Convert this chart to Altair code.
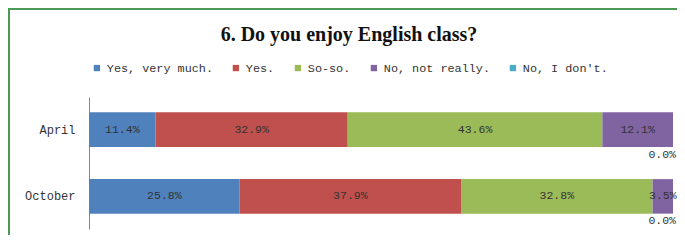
import altair as alt
import pandas as pd

months = ["April", "October"]
categories = ["Yes, very much.", "Yes.", "So-so.", "No, not really.", "No, I don't."]
april = [11.4, 32.9, 43.6, 12.1, 0.0]
october = [25.8, 37.9, 32.8, 3.5, 0.0]
colors = ["#4F81BD", "#C0504D", "#9BBB59", "#8064A2", "#4BACC6"]
title_text = ["6. Do you enjoy English class?"]

rows = []
for m, vals in zip(months, [april, october]):
    for i, (c, v) in enumerate(zip(categories, vals)):
        rows.append({"month": m, "category": c, "order": i, "value": v})
df = pd.DataFrame(rows)

base = alt.Chart(df).transform_stack(
    stack="value", groupby=["month"], as_=["x0", "x1"],
    sort=[alt.SortField("order", order="ascending")]
).transform_calculate(
    mid="(datum.x0 + datum.x1) / 2",
    label="format(datum.value, '.1f') + '%'"
)

yenc = alt.Y(
    "month:N", sort=months,
    scale=alt.Scale(paddingInner=0.483, paddingOuter=0.23),
    axis=alt.Axis(title=None, domainColor="#868686", domainWidth=1, ticks=False,
                  labelFont="Liberation Mono", labelFontSize=12, labelColor="#333333",
                  labelPadding=14, grid=False),
)
xscale = alt.Scale(domain=[0, 100], nice=False, zero=True)

bars = base.mark_bar(strokeWidth=0).encode(
    x=alt.X("x0:Q", scale=xscale, axis=None),
    x2="x1:Q",
    y=yenc,
    color=alt.Color(
        "category:N",
        scale=alt.Scale(domain=categories, range=colors),
        legend=alt.Legend(
            orient="none", legendX=2, legendY=-35, direction="horizontal", columns=5,
            title=None, symbolType="square", symbolSize=40, symbolStrokeWidth=0,
            labelFont="Liberation Mono", labelFontSize=11.8, labelColor="#333333",
            columnPadding=17, labelOffset=4,
        ),
    ),
)

labels = base.transform_filter("datum.value > 0").mark_text(
    font="Liberation Mono", fontSize=11.5, color="#333333"
).encode(x=alt.X("mid:Q", scale=xscale), y=alt.Y("month:N", sort=months), text="label:N")

zero_labels = base.transform_filter("datum.value == 0").mark_text(
    font="Liberation Mono", fontSize=11.5, color="#333333", dy=25, dx=3, align="right"
).encode(x=alt.X("x1:Q", scale=xscale), y=alt.Y("month:N", sort=months), text="label:N")

title = alt.Chart(pd.DataFrame({"t": title_text})).mark_text(
    font="Liberation Serif", fontWeight="bold", fontSize=20, color="#111111",
    baseline="alphabetic", align="center"
).encode(x=alt.value(260), y=alt.value(-56), text="t:N")

border_color = "#4a9a55"
left_border = alt.Chart(pd.DataFrame({"a": [0]})).mark_rule(
    color=border_color, strokeWidth=2
).encode(x=alt.value(-80), y=alt.value(-89), y2=alt.value(138))
top_border = alt.Chart(pd.DataFrame({"a": [0]})).mark_rule(
    color=border_color, strokeWidth=2
).encode(x=alt.value(-81), x2=alt.value(600), y=alt.value(-88))

chart = alt.layer(bars, labels, zero_labels, title, left_border, top_border).properties(
    width=584, height=132,
    autosize=alt.AutoSizeParams(type="none"),
    padding={"left": 81, "top": 89, "right": 4, "bottom": 6},
).configure_view(stroke=None)

chart.save("out.html", embed_options={"renderer": "svg", "actions": False})
